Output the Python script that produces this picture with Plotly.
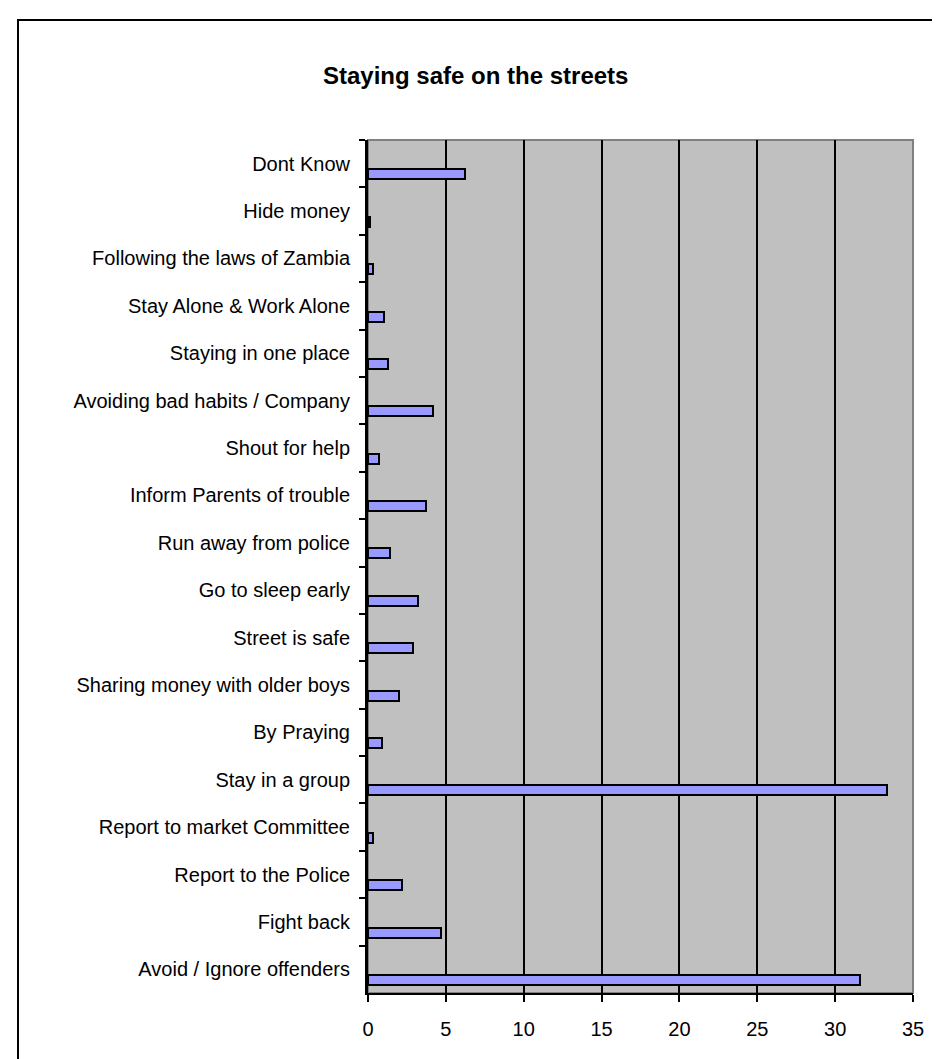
import plotly.graph_objects as go

categories = [
    "Dont Know",
    "Hide money",
    "Following the laws of Zambia",
    "Stay Alone & Work Alone",
    "Staying in one place",
    "Avoiding bad habits / Company",
    "Shout for help",
    "Inform Parents of trouble",
    "Run away from police",
    "Go to sleep early",
    "Street is safe",
    "Sharing money with older boys",
    "By Praying",
    "Stay in a group",
    "Report to market Committee",
    "Report to the Police",
    "Fight back",
    "Avoid / Ignore offenders",
]
values = [6.2, 0.1, 0.3, 1.0, 1.3, 4.2, 0.7, 3.7, 1.4, 3.2, 2.9, 2.0, 0.9, 33.3, 0.3, 2.2, 4.7, 31.6]
x_ticks = [0, 5, 10, 15, 20, 25, 30, 35]

FONT = "Liberation Sans, Arial, sans-serif"

fig = go.Figure()
fig.add_trace(go.Bar(
    x=values,
    y=categories,
    orientation="h",
    marker=dict(color="#9999FF", line=dict(color="#000000", width=2)),
    offset=0.12,
    width=0.21,
    hoverinfo="x+y",
))

W, H = 940, 1059
L, R, T, B = 360, 905, 132, 985

fig.update_layout(
    width=W,
    height=H,
    margin=dict(l=L, r=W - R, t=T, b=H - B, pad=0),
    paper_bgcolor="#FFFFFF",
    plot_bgcolor="#C0C0C0",
    showlegend=False,
    font=dict(family=FONT, size=20, color="#000000"),
    title=dict(
        text="<b>Staying safe on the streets</b>",
        font=dict(family=FONT, size=24, color="#000000"),
        x=315 / W,
        xanchor="left",
        xref="container",
        y=1 - 68 / H,
        yanchor="middle",
        yref="container",
    ),
    bargap=0,
)

fig.update_xaxes(
    range=[0, 35],
    tickvals=x_ticks,
    ticktext=[str(v) for v in x_ticks],
    showgrid=True,
    gridcolor="#000000",
    gridwidth=2,
    zeroline=False,
    showline=True,
    linecolor="#000000",
    linewidth=2,
    ticks="outside",
    ticklen=7,
    tickwidth=2,
    tickcolor="#000000",
    ticklabelstandoff=10,
    tickfont=dict(family=FONT, size=20, color="#000000"),
    fixedrange=True,
)

fig.update_yaxes(
    type="category",
    categoryorder="array",
    categoryarray=categories,
    autorange="reversed",
    tickson="boundaries",
    showgrid=False,
    zeroline=False,
    showline=True,
    linecolor="#000000",
    linewidth=3,
    ticks="outside",
    ticklen=6,
    tickwidth=2,
    tickcolor="#000000",
    ticklabelstandoff=11,
    tickfont=dict(family=FONT, size=20, color="#000000"),
    fixedrange=True,
)

# plot-area border (grey top/right edges)
fig.add_shape(type="rect", xref="paper", yref="paper", x0=0, x1=1, y0=0, y1=1,
              line=dict(color="#808080", width=2), layer="below")

# chart-area outer border
pw, ph = R - L, B - T
fig.add_shape(type="rect", xref="paper", yref="paper",
              x0=(10 - L) / pw, x1=(W + 20 - L) / pw,
              y0=(B - (H + 20)) / ph, y1=(B - 12) / ph,
              line=dict(color="#000000", width=2), fillcolor="rgba(0,0,0,0)", layer="below")

fig.write_html("out.html")
